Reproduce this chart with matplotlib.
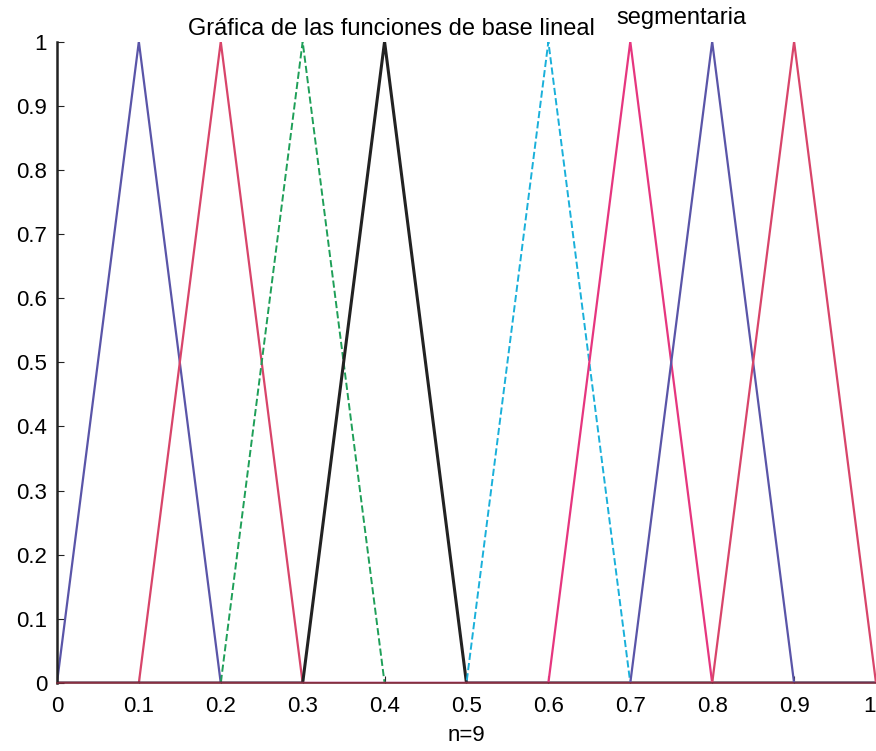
import matplotlib.pyplot as plt

# nodos de la malla y valores de cada funcion base en los nodos
nodos = [0.0, 0.1, 0.2, 0.3, 0.4, 0.5, 0.6, 0.7, 0.8, 0.9, 1.0]
phi1 = [0, 1, 0, 0, 0, 0, 0, 0, 0, 0, 0]
phi2 = [0, 0, 1, 0, 0, 0, 0, 0, 0, 0, 0]
phi3 = [0, 0, 0, 1, 0, 0, 0, 0, 0, 0, 0]
phi4 = [0, 0, 0, 0, 1, 0, 0, 0, 0, 0, 0]
phi6 = [0, 0, 0, 0, 0, 0, 1, 0, 0, 0, 0]
phi7 = [0, 0, 0, 0, 0, 0, 0, 1, 0, 0, 0]
phi8 = [0, 0, 0, 0, 0, 0, 0, 0, 1, 0, 0]
phi9 = [0, 0, 0, 0, 0, 0, 0, 0, 0, 1, 0]

funciones = [phi1, phi2, phi3, phi4, phi6, phi7, phi8, phi9]
colores = ['#5a55a8', '#d8456a', '#1e9f58', '#222222',
           '#1ab0da', '#e6367f', '#5a55a8', '#d8456a']
estilos = ['-', '-', '--', '-', '--', '-', '-', '-']
grosores = [1.6, 1.6, 1.4, 2.2, 1.4, 1.6, 1.6, 1.6]

ticks = [0, 0.1, 0.2, 0.3, 0.4, 0.5, 0.6, 0.7, 0.8, 0.9, 1]
etiquetas = ['0', '0.1', '0.2', '0.3', '0.4', '0.5', '0.6', '0.7', '0.8', '0.9', '1']

plt.rcParams['font.family'] = ['Liberation Sans', 'DejaVu Sans']

fig = plt.figure(figsize=(8.76, 7.51), dpi=100)
ax = fig.add_axes([0.065, 0.0905, 0.935, 0.854])

for y, c, ls, lw in zip(funciones, colores, estilos, grosores):
    ax.plot(nodos, y, color=c, linestyle=ls, linewidth=lw)

ax.set_xlim(0, 1)
ax.set_ylim(0, 1)
ax.set_xticks(ticks)
ax.set_xticklabels(etiquetas)
ax.set_yticks(ticks)
ax.set_yticklabels(etiquetas)
ax.tick_params(direction='in', length=5, labelsize=16, color='#222222')
ax.tick_params(axis='x', pad=9)
ax.tick_params(axis='y', pad=7)
ax.spines['top'].set_visible(False)
ax.spines['right'].set_visible(False)
ax.spines['left'].set_linewidth(1.8)
ax.spines['left'].set_color('#222222')
ax.spines['bottom'].set_linewidth(1.2)
ax.spines['bottom'].set_color('#7a2a3a')
# la ultima etiqueta queda pegada al borde derecho
ax.get_xticklabels()[-1].set_horizontalalignment('right')

ax.set_xlabel('n=9', fontsize=16, labelpad=6)
fig.text(0.447, 0.962, 'Gráfica de las funciones de base lineal',
         ha='center', va='center', fontsize=17)
fig.text(0.778, 0.976, 'segmentaria', ha='center', va='center', fontsize=17)

fig.savefig('out.png', dpi=100)
